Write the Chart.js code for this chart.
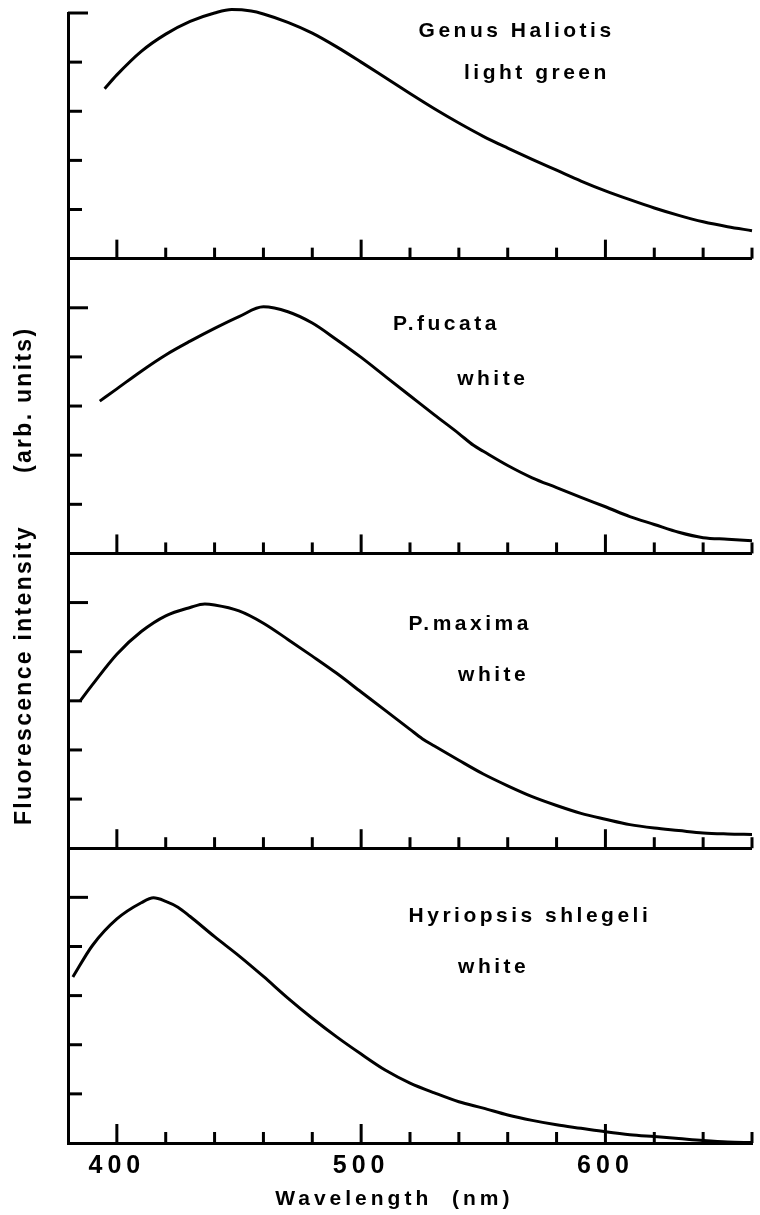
<!DOCTYPE html>
<html>
<head>
<meta charset="utf-8">
<title>Fluorescence spectra</title>
<script src="https://cdn.jsdelivr.net/npm/chart.js@4.4.1/dist/chart.umd.min.js"></script>
<style>
  html, body { margin: 0; padding: 0; background: #fff; }
  #wrap { width: 760px; height: 1215px; }
</style>
</head>
<body>
<div id="wrap"><canvas id="spectraChart"></canvas></div>
<script>
// panel texts, top to bottom
var panelNames = ["Genus Haliotis", "P.fucata", "P.maxima", "Hyriopsis shlegeli"];
var panelColours = ["light green", "white", "white", "white"];
var xTickLabels = [400, 500, 600];
var yTitle = "Fluorescence intensity      (arb. units)";
var xTitle = "Wavelength  (nm)";

// curves (wavelength nm / intensity in tick units)
var haliotisNm = [395, 400, 410, 420, 430, 440, 447, 455, 460, 470, 480, 490, 500, 510, 520, 530, 540, 550, 560, 570, 580, 590, 600, 610, 620, 630, 640, 650, 660];
var haliotisVal = [3.46, 3.74, 4.22, 4.57, 4.83, 5.00, 5.07, 5.04, 4.98, 4.81, 4.59, 4.31, 4.00, 3.68, 3.36, 3.05, 2.76, 2.49, 2.25, 2.02, 1.80, 1.58, 1.38, 1.20, 1.03, 0.88, 0.75, 0.65, 0.57];

var fucataNm = [393, 400, 410, 420, 430, 440, 450, 460, 470, 480, 490, 500, 510, 520, 530, 540, 546, 550, 560, 570, 580, 590, 600, 610, 620, 630, 640, 650, 660];
var fucataVal = [3.10, 3.35, 3.71, 4.04, 4.32, 4.58, 4.82, 5.02, 4.92, 4.69, 4.35, 3.99, 3.60, 3.21, 2.82, 2.44, 2.20, 2.08, 1.79, 1.54, 1.34, 1.14, 0.95, 0.75, 0.59, 0.43, 0.32, 0.29, 0.26];

var maximaNm = [385, 390, 400, 410, 420, 430, 436, 440, 450, 460, 470, 480, 490, 500, 510, 520, 525, 530, 540, 550, 560, 570, 580, 590, 600, 610, 620, 630, 640, 650, 660];
var maximaVal = [3.00, 3.33, 3.95, 4.41, 4.73, 4.90, 4.97, 4.95, 4.83, 4.58, 4.25, 3.91, 3.56, 3.18, 2.80, 2.42, 2.23, 2.08, 1.79, 1.51, 1.27, 1.05, 0.87, 0.71, 0.59, 0.48, 0.41, 0.36, 0.31, 0.29, 0.28];

var hyriopsisNm = [382, 390, 400, 410, 415, 420, 425, 430, 440, 450, 460, 470, 480, 490, 500, 510, 520, 530, 540, 550, 560, 570, 580, 590, 600, 610, 620, 630, 640, 650, 660];
var hyriopsisVal = [3.38, 4.02, 4.56, 4.89, 4.99, 4.92, 4.80, 4.61, 4.20, 3.81, 3.39, 2.95, 2.54, 2.16, 1.81, 1.48, 1.22, 1.02, 0.84, 0.71, 0.57, 0.46, 0.37, 0.30, 0.23, 0.17, 0.13, 0.09, 0.05, 0.02, 0.01];

var panelAxes = ["y1", "y2", "y3", "y4"];
var panelMax = [5, 6, 6, 6];

// where the two text lines of each panel start: [nm, value, nm, value]
var labelAnchors = [
    [523.5, 4.52, 542.1, 3.66],
    [513.0, 4.54, 539.3, 3.42],
    [519.4, 4.44, 539.7, 3.40],
    [519.4, 4.50, 539.7, 3.46],
];

function toPoints(nm, val) {
    var pts = [];
    for (var i = 0; i < nm.length; i++) {
        pts.push({ x: nm[i], y: val[i] });
    }
    return pts;
}

function curve(nm, val, axis) {
    return {
        data: toPoints(nm, val),
        yAxisID: axis,
        borderColor: "#000",
        borderWidth: 3,
        pointRadius: 0,
        fill: false,
        cubicInterpolationMode: "monotone",
        clip: 10,
    };
}

function panelScale(i) {
    return {
        type: "linear",
        position: "left",
        stack: "panels",
        stackWeight: panelMax[i],
        weight: 4 - i, // higher weight sits higher in the stack
        min: 0,
        max: panelMax[i],
        ticks: { display: false, stepSize: 1 },
        grid: {
            drawTicks: false,
            lineWidth: 3,
            color: function (c) {
                return c.tick && c.tick.value === 0 ? "#000" : "rgba(0,0,0,0)";
            },
        },
        border: { display: true, color: "#000", width: 3 },
    };
}

// inward tick marks + all free text
var figureDecor = {
    id: "figureDecor",
    beforeDraw: function (chart) {
        chart.ctx.letterSpacing = "5px";
    },
    afterDatasetsDraw: function (chart) {
        var ctx = chart.ctx;
        var x = chart.scales.x;
        var area = chart.chartArea;
        ctx.save();
        ctx.strokeStyle = "#000";
        ctx.lineWidth = 3;
        ctx.lineCap = "butt";
        panelAxes.forEach(function (id) {
            var y = chart.scales[id];
            var base = y.getPixelForValue(0);
            x.ticks.forEach(function (t) {
                if (t.value <= x.min) return;
                var px = x.getPixelForValue(t.value);
                var len = t.value % 100 === 0 ? 19 : 11;
                ctx.beginPath();
                ctx.moveTo(px, base);
                ctx.lineTo(px, base - len);
                ctx.stroke();
            });
            y.ticks.forEach(function (t) {
                if (t.value <= 0 || t.value > 5) return;
                var py = y.getPixelForValue(t.value);
                var len = t.value === 5 ? 20 : 14;
                ctx.beginPath();
                ctx.moveTo(area.left, py);
                ctx.lineTo(area.left + len, py);
                ctx.stroke();
            });
        });
        ctx.restore();
    },
    afterDraw: function (chart) {
        var ctx = chart.ctx;
        var x = chart.scales.x;
        ctx.save();
        ctx.fillStyle = "#000";
        ctx.textAlign = "left";
        ctx.textBaseline = "alphabetic";
        ctx.font = 'bold 21px "Liberation Sans", Arial, sans-serif';
        ctx.letterSpacing = "3.5px";
        panelAxes.forEach(function (id, i) {
            var y = chart.scales[id];
            var p = labelAnchors[i];
            ctx.fillText(panelNames[i], x.getPixelForValue(p[0]), y.getPixelForValue(p[1]));
            ctx.fillText(panelColours[i], x.getPixelForValue(p[2]), y.getPixelForValue(p[3]));
        });

        // axis titles
        ctx.font = 'bold 21px "Liberation Sans", Arial, sans-serif';
        ctx.letterSpacing = "4px";
        ctx.fillText(xTitle, x.getPixelForValue(464.8), chart.height - 10);

        ctx.font = 'bold 23px "Liberation Sans", Arial, sans-serif';
        ctx.letterSpacing = "2.3px";
        ctx.translate(31, 825);
        ctx.rotate(-Math.PI / 2);
        ctx.fillText(yTitle, 0, 0);
        ctx.restore();
    },
};

var scales = {
    x: {
        type: "linear",
        position: "bottom",
        min: 380,
        max: 660,
        ticks: {
            stepSize: 20,
            autoSkip: false,
            maxRotation: 0,
            padding: 8,
            color: "#000",
            font: { family: '"Liberation Sans", Arial, sans-serif', size: 25, weight: "bold" },
            callback: function (v) {
                return xTickLabels.indexOf(v) >= 0 ? String(v) : "";
            },
        },
        grid: { drawOnChartArea: false, drawTicks: false, color: "rgba(0,0,0,0)" },
        border: { display: true, color: "#000", width: 3 },
    },
};
panelAxes.forEach(function (id, i) {
    scales[id] = panelScale(i);
});

var ctx = document.getElementById("spectraChart").getContext("2d");
var spectraChart = new Chart(ctx, {
    type: "line",
    data: {
        datasets: [
            curve(haliotisNm, haliotisVal, "y1"),
            curve(fucataNm, fucataVal, "y2"),
            curve(maximaNm, maximaVal, "y3"),
            curve(hyriopsisNm, hyriopsisVal, "y4"),
        ],
    },
    options: {
        responsive: true,
        maintainAspectRatio: false,
        animation: false,
        layout: { padding: { top: 13, left: 68, right: 2, bottom: 26 } },
        plugins: { legend: { display: false }, tooltip: { enabled: false } },
        scales: scales,
    },
    plugins: [figureDecor],
});
</script>
</body>
</html>
